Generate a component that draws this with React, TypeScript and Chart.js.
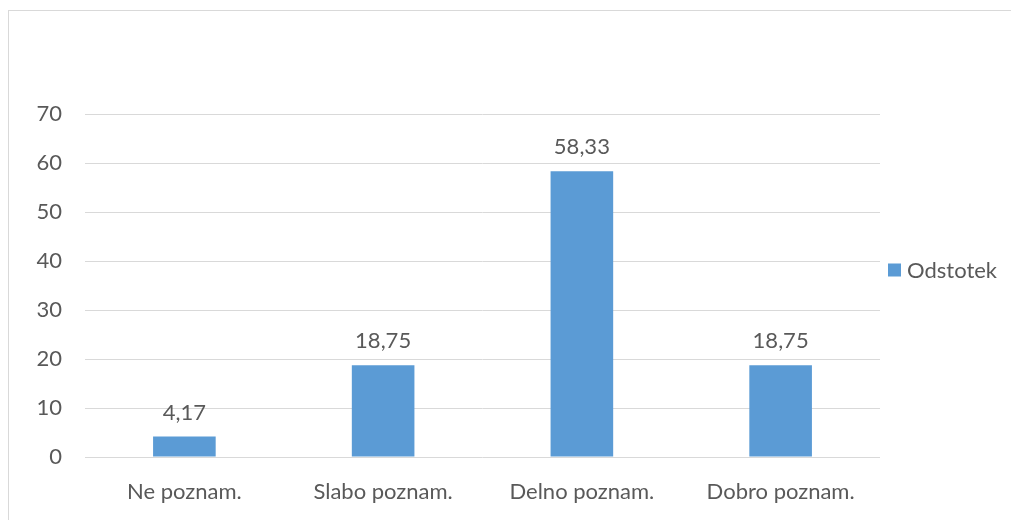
import React, { useEffect, useRef } from "react";
import { Chart, registerables } from "chart.js";

Chart.register(...registerables);

const categories = ["Ne poznam.", "Slabo poznam.", "Delno poznam.", "Dobro poznam."];
const values = [4.17, 18.75, 58.33, 18.75];
const seriesName = "Odstotek";
const yMax = 70;
const yStep = 10;

const FONT = "Lato, 'Open Sans', sans-serif";
const FSIZE = 22;
const TEXT = "#595959";
const BAR = "#5b9bd5";
const GRID = "#d9d9d9";

const valueLabels = {
  id: "valueLabels",
  afterDatasetsDraw(chart: any) {
    const ctx = chart.ctx;
    const meta = chart.getDatasetMeta(0);
    ctx.save();
    ctx.font = `${FSIZE}px ${FONT}`;
    ctx.fillStyle = TEXT;
    ctx.textAlign = "center";
    ctx.textBaseline = "alphabetic";
    meta.data.forEach((el: any, i: number) => {
      const txt = values[i].toFixed(2).replace(".", ",");
      ctx.fillText(txt, el.x, el.y - 17);
    });
    ctx.restore();
  },
};

const sideLegend = {
  id: "sideLegend",
  afterDraw(chart: any) {
    const ctx = chart.ctx;
    const area = chart.chartArea;
    const x = area.right + 8;
    const y = (area.top + area.bottom) / 2 - 15;
    ctx.save();
    ctx.fillStyle = BAR;
    ctx.fillRect(x, y - 7, 13, 13);
    ctx.font = `${FSIZE}px ${FONT}`;
    ctx.fillStyle = TEXT;
    ctx.textAlign = "left";
    ctx.textBaseline = "middle";
    ctx.fillText(seriesName, x + 19, y);
    ctx.restore();
  },
};

export default function App() {
  const ref = useRef<HTMLCanvasElement | null>(null);
  useEffect(() => {
    if (!ref.current) return;
    const chart = new Chart(ref.current, {
      type: "bar",
      data: {
        labels: categories,
        datasets: [
          {
            label: seriesName,
            data: values,
            backgroundColor: BAR,
            categoryPercentage: 1,
            barPercentage: 0.315,
          },
        ],
      },
      options: {
        animation: false,
        responsive: false,
        layout: { padding: { top: 103, right: 131, bottom: 0, left: 0 } },
        plugins: { legend: { display: false }, tooltip: { enabled: false } },
        scales: {
          x: {
            grid: { display: false },
            border: { display: false },
            ticks: { color: TEXT, font: { family: FONT, size: FSIZE }, padding: 14 },
            afterFit(scale: any) {
              scale.height = 63;
            },
          },
          y: {
            min: 0,
            max: yMax,
            ticks: { stepSize: yStep, color: TEXT, font: { family: FONT, size: FSIZE }, padding: 23 },
            grid: { color: GRID, lineWidth: 1, drawTicks: false },
            border: { display: false },
            afterFit(scale: any) {
              scale.width = 76;
            },
          },
        },
      },
      plugins: [valueLabels, sideLegend],
    });
    return () => chart.destroy();
  }, []);
  return (
    <div
      style={{
        position: "fixed",
        left: 8,
        top: 10,
        width: 1003,
        height: 510,
        borderTop: `1px solid ${GRID}`,
        borderLeft: `1px solid ${GRID}`,
        boxSizing: "border-box",
      }}
    >
      <canvas ref={ref} width={1002} height={509} style={{ display: "block" }} />
    </div>
  );
}
